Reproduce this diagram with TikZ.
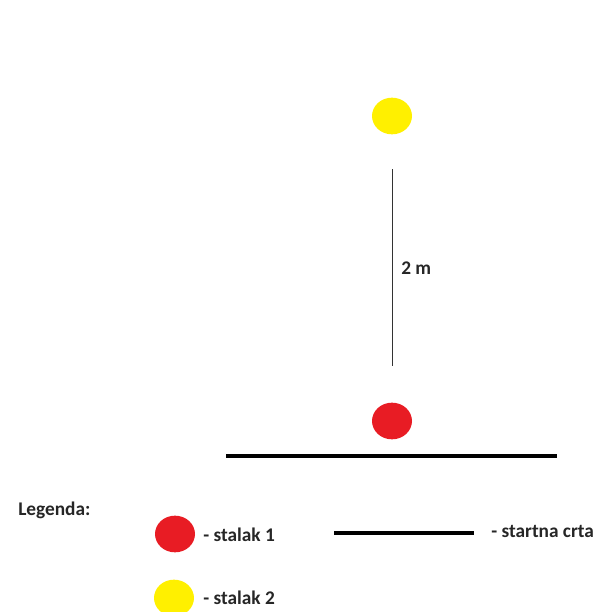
\documentclass[tikz,border=0pt]{standalone}
\usepackage{fontspec}
\setmainfont{Carlito}
\usetikzlibrary{shapes.geometric}
\definecolor{dotred}{RGB}{232,28,36}
\definecolor{dotyellow}{RGB}{255,240,0}
\tikzset{
  dot/.style={ellipse, inner sep=0pt, minimum width=30pt, minimum height=27.5pt},
  reddot/.style={dot, fill=dotred},
  yellowdot/.style={dot, fill=dotyellow},
  lbl/.style={font=\bfseries\fontsize{14.5}{16}\selectfont, inner sep=0pt, anchor=west, text=black!85},
  thinline/.style={draw=black!80, line width=0.75pt},
  startline/.style={draw=black, line width=2.4pt}
}
\begin{document}
\begin{tikzpicture}[x=0.75pt,y=-0.75pt]
\useasboundingbox (0,0) rectangle (599,612);
% main figure
\node[yellowdot] (y) at (392,116) {};
\node[reddot] (r) at (392,421) {};
\coordinate (mtop) at (392,169);
\coordinate (mbot) at (392,366);
\draw[thinline] (mtop) -- (mbot);
\node[lbl] (dist) at (401,268) {2 m};
\coordinate (sl) at (226,456);
\coordinate (sr) at (557,456);
\draw[startline] (sl) -- (sr);
% legend
\node[lbl] (leg) at (18,510) {Legenda:};
\node[reddot] (lr) at (175,534) {};
\node[lbl] (lrt) at (203,535) {- stalak 1};
\node[yellowdot] (ly) at (174,598) {};
\node[lbl] (lyt) at (203,598) {- stalak 2};
\coordinate (ll) at (334,533);
\coordinate (lrr) at (474,533);
\draw[startline] (ll) -- (lrr);
\node[lbl] (lst) at (491,531) {- startna crta};
\end{tikzpicture}
\end{document}
